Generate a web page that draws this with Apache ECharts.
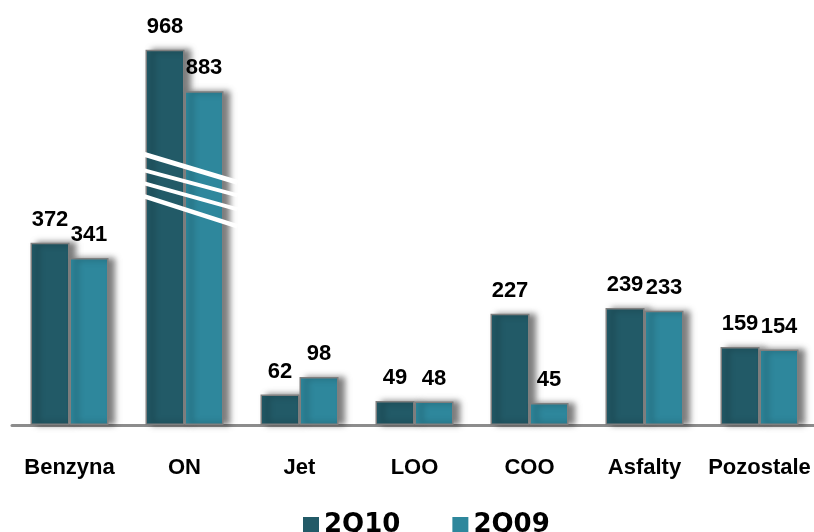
<!DOCTYPE html>
<html>
<head>
<meta charset="utf-8">
<style>
html,body{margin:0;padding:0;background:#fff;}
#chart{width:814px;height:532px;}
</style>
<script src="https://cdn.jsdelivr.net/npm/echarts@6/dist/echarts.min.js"></script>
</head>
<body>
<div id="chart"></div>
<script>
const categories = ['Benzyna', 'ON', 'Jet', 'LOO', 'COO', 'Asfalty', 'Pozostale'];
const seriesNames = ['2Q10', '2Q09'];
const values2Q10 = [372, 968, 62, 49, 227, 239, 159];
const values2Q09 = [341, 883, 98, 48, 45, 233, 154];
const brokenCategory = 'ON';
const axisBreak = { start: 440, end: 724 };

const DARK = '#225a67';
const LIGHT = '#2e879c';
const TXT_FONT = "'Liberation Sans', Arial, sans-serif";

const chart = echarts.init(document.getElementById('chart'), null, { renderer: 'canvas' });

const barCommon = {
  type: 'bar',
  barWidth: 39,
  barGap: '0%',
  label: {
    show: true,
    position: 'top',
    distance: 12,
    color: '#000',
    fontFamily: TXT_FONT,
    fontWeight: 'bold',
    fontSize: 22
  }
};

function itemStyle(color) {
  return {
    color: color,
    borderColor: '#7f7f7f',
    borderWidth: 1.5,
    shadowColor: 'rgba(0,0,0,0.5)',
    shadowBlur: 6,
    shadowOffsetX: 6,
    shadowOffsetY: 0
  };
}

const breakIdx = categories.indexOf(brokenCategory);

chart.setOption({
  animation: false,
  backgroundColor: '#fff',
  grid: { left: 12, width: 805, top: 34, bottom: 107, containLabel: false, outerBoundsMode: 'none' },
  legend: {
    data: seriesNames,
    left: 298,
    top: 507,
    itemGap: 52,
    itemWidth: 16,
    itemHeight: 16,
    icon: 'rect',
    itemStyle: { borderWidth: 0, shadowBlur: 0, shadowOffsetX: 0, shadowOffsetY: 0 },
    textStyle: { fontFamily: "'DejaVu Sans', sans-serif", fontWeight: 'bold', fontSize: 26, color: '#000' }
  },
  xAxis: {
    type: 'category',
    data: categories,
    axisLine: { show: true, lineStyle: { color: '#8c8c8c', width: 3 } },
    axisTick: { show: false },
    axisLabel: {
      interval: 0,
      margin: 32,
      color: '#000',
      fontFamily: TXT_FONT,
      fontWeight: 'bold',
      fontSize: 22
    }
  },
  yAxis: {
    type: 'value',
    min: 0,
    max: 1000,
    breaks: [{ start: axisBreak.start, end: axisBreak.end, gap: 82 }],
    breakArea: { show: false },
    axisLine: { show: false },
    axisTick: { show: false },
    axisLabel: { show: false },
    splitLine: { show: false }
  },
  series: [
    Object.assign({}, barCommon, { name: seriesNames[0], data: values2Q10, itemStyle: itemStyle(DARK) }),
    Object.assign({}, barCommon, { name: seriesNames[1], data: values2Q09, itemStyle: itemStyle(LIGHT) }),
    {
      type: 'custom',
      name: 'break',
      z: 10,
      silent: true,
      data: [[breakIdx, axisBreak.start, axisBreak.end]],
      renderItem: function (params, api) {
        const idx = api.value(0);
        const pS = api.coord([idx, api.value(1)]);
        const pE = api.coord([idx, api.value(2)]);
        const cy = (pS[1] + pE[1]) / 2;
        const band = api.size([1, 0])[0];
        const half = band * 0.34;
        const x0 = pS[0] - half - 1;
        const x1 = pS[0] + half + 14;
        const offs = [[-35, -7, 5], [-19, 6, 4], [-6, 20, 4], [7, 37, 4.5]];
        return {
          type: 'group',
          children: offs.map(o => ({
            type: 'line',
            shape: { x1: x0, y1: cy + o[0], x2: x1, y2: cy + o[1] },
            style: { stroke: '#fff', lineWidth: o[2] }
          }))
        };
      }
    }
  ]
});
</script>
</body>
</html>
